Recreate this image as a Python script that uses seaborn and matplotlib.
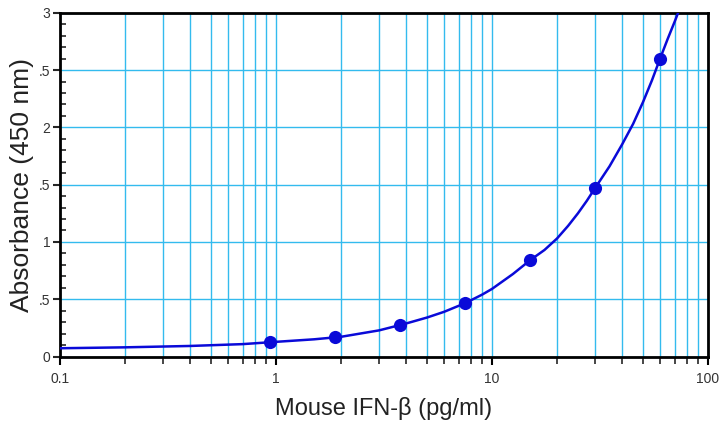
import numpy as np
import pandas as pd
import seaborn as sns
import matplotlib.pyplot as plt
from matplotlib.ticker import LogLocator, MultipleLocator, FixedLocator

# standard points (concentration pg/ml, absorbance)
std_conc = [0.9375, 1.875, 3.75, 7.5, 15, 30, 60]
std_abs = [0.125, 0.167, 0.275, 0.465, 0.84, 1.47, 2.60]

# fitted curve
fit_conc = [0.1, 0.2, 0.4, 0.7, 1.0, 1.5, 2.0, 3.0, 4.0, 5.0, 6.0, 7.5, 9, 10, 12.5,
            15, 17.5, 20, 22.5, 25, 27.5, 30, 35, 40, 45, 50, 55, 60, 65, 70, 72.7]
fit_abs = [0.072, 0.080, 0.092, 0.108, 0.128, 0.150, 0.172, 0.228, 0.288, 0.34,
           0.39, 0.465, 0.54, 0.59, 0.72, 0.84, 0.93, 1.03, 1.14, 1.25, 1.36, 1.47,
           1.66, 1.85, 2.03, 2.22, 2.41, 2.60, 2.77, 2.92, 3.00]

y_ticks = [0, 0.5, 1, 1.5, 2, 2.5, 3]
y_ticklabels = ['0', '.5', '1', '.5', '2', '.5', '3']  # left side is clipped in the original
x_ticks = [0.1, 1, 10, 100]
x_ticklabels = ['0.1', '1', '10', '100']

sns.set_style('ticks')
plt.rcParams['font.family'] = ['Liberation Sans', 'DejaVu Sans']

fig = plt.figure(figsize=(7.24, 4.23), dpi=100)
ax = fig.add_axes([60 / 724, 1 - 356.5 / 423, 648 / 724, 343.7 / 423])

blue = '#0a0ad8'
grid_c = '#33bbee'

fit_df = pd.DataFrame({'conc': fit_conc, 'abs': fit_abs})
std_df = pd.DataFrame({'conc': std_conc, 'abs': std_abs})
sns.lineplot(data=fit_df, x='conc', y='abs', ax=ax, color=blue, lw=1.8, zorder=3)
sns.scatterplot(data=std_df, x='conc', y='abs', ax=ax, color=blue, s=90,
                edgecolor=blue, linewidth=0, zorder=4)

ax.set_xscale('log')
ax.set_xlim(0.1, 100)
ax.set_ylim(0, 3)

ax.xaxis.set_major_locator(FixedLocator(x_ticks))
ax.xaxis.set_minor_locator(LogLocator(base=10, subs=np.arange(2, 10)))
ax.set_xticks(x_ticks)
ax.set_xticklabels(x_ticklabels)
ax.set_yticks(y_ticks)
ax.set_yticklabels(y_ticklabels)
ax.yaxis.set_minor_locator(MultipleLocator(0.1))

# grid: every log minor line on x, every 0.5 on y
ax.grid(which='both', axis='x', color=grid_c, lw=1.0)
ax.grid(which='major', axis='y', color=grid_c, lw=1.0)
ax.set_axisbelow(True)

ax.tick_params(axis='x', which='major', direction='out', length=6, width=1.5,
               labelsize=10, pad=5, colors='black', labelcolor='#333333')
ax.tick_params(axis='x', which='minor', direction='out', length=5, width=1.2)
ax.tick_params(axis='y', which='major', direction='out', length=5, width=1.5,
               labelsize=10, pad=2, labelcolor='#333333')
ax.tick_params(axis='y', which='minor', direction='in', length=4, width=1.2)

for s in ax.spines.values():
    s.set_visible(True)
    s.set_color('black')
    s.set_linewidth(2)

ax.set_xlabel('Mouse IFN-β (pg/ml)', fontsize=17, color='#222222', labelpad=8)
ax.set_ylabel('Absorbance (450 nm)', fontsize=19, color='#222222')
ax.yaxis.set_label_coords(-0.040, 0.5)

plt.savefig('out.png', dpi=100)
